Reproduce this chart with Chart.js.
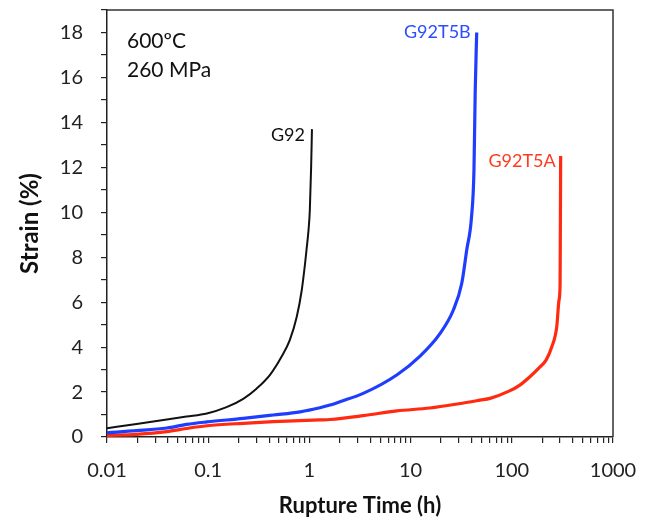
<!DOCTYPE html>
<html>
<head>
<meta charset="utf-8">
<script src="https://cdn.jsdelivr.net/npm/chart.js@4"></script>
<style>
  html, body { margin: 0; padding: 0; background: #fff; }
  #wrap { width: 652px; height: 519px; }
</style>
</head>
<body>
<div id="wrap"><canvas id="creepChart" width="652" height="519"></canvas></div>
<script>
// creep curves, 600 C / 260 MPa : time (h) vs strain (%)
const g92Time   = [0.01, 0.0196, 0.039, 0.061, 0.097, 0.152, 0.222, 0.30, 0.41, 0.53, 0.64, 0.75, 0.84, 0.906, 0.94, 0.98, 1.01, 1.04, 1.06];
const g92Strain = [0.39, 0.58, 0.78, 0.91, 1.05, 1.33, 1.7, 2.15, 2.78, 3.57, 4.31, 5.35, 6.53, 7.72, 8.4, 9.2, 10.1, 12.0, 13.7];

const g92t5bTime   = [0.01, 0.0196, 0.039, 0.061, 0.097, 0.222, 0.44, 0.81, 1.27, 1.6, 2, 3.4, 7.3, 12.4, 19.5, 26.4, 32, 35.8, 40, 42.3, 43.5, 45];
const g92t5bStrain = [0.19, 0.28, 0.4, 0.56, 0.67, 0.83, 0.98, 1.12, 1.3, 1.42, 1.57, 1.94, 2.76, 3.6, 4.6, 5.64, 6.83, 8.3, 9.8, 11.9, 15.4, 18];

const g92t5aTime   = [0.01, 0.0196, 0.039, 0.061, 0.097, 0.222, 0.44, 1.27, 1.6, 3.4, 7.3, 15.5, 30, 48.5, 61, 95, 120, 151, 190, 218, 248, 278, 293, 300, 302, 304];
const g92t5aStrain = [0.07, 0.12, 0.24, 0.38, 0.5, 0.61, 0.68, 0.76, 0.78, 0.95, 1.16, 1.29, 1.48, 1.64, 1.72, 2.05, 2.31, 2.68, 3.12, 3.42, 4.0, 4.9, 6.1, 6.8, 9.5, 12.5];

const seriesNames = ['G92', 'G92T5B', 'G92T5A'];
const xMajorTicks = [0.01, 0.1, 1, 10, 100, 1000];
const yTickLabels = [0, 2, 4, 6, 8, 10, 12, 14, 16, 18];

const toPoints = (xs, ys) => xs.map((x, i) => ({ x, y: ys[i] }));

const FONT = 'Lato, "Open Sans", sans-serif';

// frame + text labels on the plot
const annotations = {
    id: 'annotations',
    afterDraw(chart) {
        const { ctx, chartArea, scales } = chart;
        ctx.save();
        ctx.strokeStyle = '#333';
        ctx.lineWidth = 1.5;
        ctx.beginPath();
        ctx.moveTo(chartArea.left, chartArea.top);
        ctx.lineTo(chartArea.right, chartArea.top);
        ctx.lineTo(chartArea.right, chartArea.bottom);
        ctx.stroke();

        ctx.fillStyle = '#111';
        ctx.font = '21px ' + FONT;
        ctx.textAlign = 'left';
        ctx.textBaseline = 'middle';
        ctx.fillText('600\u00BAC', chartArea.left + 20, 41);
        ctx.fillText('260 MPa', chartArea.left + 20, 70);

        const tags = [
            { ds: 0, color: '#111', dx: -7, dy: 6 },
            { ds: 1, color: '#2a4dff', dx: -6, dy: 0 },
            { ds: 2, color: '#ff3a1e', dx: -5, dy: 5 }
        ];
        ctx.font = '18px ' + FONT;
        ctx.textAlign = 'right';
        tags.forEach(t => {
            const data = chart.data.datasets[t.ds].data;
            const last = data[data.length - 1];
            const px = scales.x.getPixelForValue(last.x);
            const py = scales.y.getPixelForValue(last.y);
            ctx.fillStyle = t.color;
            ctx.fillText(seriesNames[t.ds], px + t.dx, py + t.dy);
        });
        ctx.restore();
    }
};

const ctx = document.getElementById('creepChart').getContext('2d');
new Chart(ctx, {
    type: 'line',
    data: {
        datasets: [
            { label: seriesNames[0], data: toPoints(g92Time, g92Strain), borderColor: '#111', borderWidth: 2 },
            { label: seriesNames[1], data: toPoints(g92t5bTime, g92t5bStrain), borderColor: '#1f3dff', borderWidth: 3.2 },
            { label: seriesNames[2], data: toPoints(g92t5aTime, g92t5aStrain), borderColor: '#ff2a10', borderWidth: 3.2 }
        ]
    },
    options: {
        responsive: false,
        animation: false,
        layout: { padding: { top: 10, right: 39, left: 0, bottom: 0 } },
        elements: {
            point: { radius: 0 },
            line: { cubicInterpolationMode: 'monotone', fill: false }
        },
        plugins: {
            legend: { display: false },
            tooltip: { enabled: false }
        },
        scales: {
            x: {
                type: 'logarithmic',
                min: 0.01,
                max: 1000,
                afterBuildTicks: (scale) => {
                    const ticks = [];
                    xMajorTicks.forEach((v, i) => {
                        ticks.push({ value: v });
                        if (i < xMajorTicks.length - 1) {
                            for (let k = 2; k <= 9; k++) ticks.push({ value: v * k });
                        }
                    });
                    scale.ticks = ticks;
                },
                afterFit: (scale) => {
                    scale.height = 82;
                    scale.paddingLeft = 0;
                    scale.paddingRight = 0;
                },
                ticks: {
                    autoSkip: false,
                    maxRotation: 0,
                    padding: 16,
                    color: '#222',
                    font: { family: FONT, size: 20 },
                    callback: (v) => xMajorTicks.includes(v) ? String(v) : ''
                },
                grid: { drawOnChartArea: false, drawTicks: true, tickLength: 6, color: '#222', lineWidth: 1.2 },
                border: { display: true, color: '#222', width: 1.5 },
                title: {
                    display: true,
                    text: 'Rupture Time (h)',
                    color: '#111',
                    font: { family: FONT, size: 22, weight: 'bold' },
                    padding: { top: 0, bottom: 0 }
                }
            },
            y: {
                min: 0,
                max: 19,
                afterFit: (scale) => {
                    scale.width = 107;
                    scale.paddingTop = 0;
                    scale.paddingBottom = 0;
                },
                ticks: {
                    stepSize: 1,
                    autoSkip: false,
                    padding: 18,
                    color: '#222',
                    font: { family: FONT, size: 20 },
                    callback: (v) => yTickLabels.includes(v) ? String(v) : ''
                },
                grid: { drawOnChartArea: false, drawTicks: true, tickLength: 6, color: '#222', lineWidth: 1.2 },
                border: { display: true, color: '#222', width: 1.5 },
                title: {
                    display: true,
                    text: 'Strain (%)',
                    color: '#111',
                    font: { family: FONT, size: 24, weight: 'bold' },
                    padding: { top: 16, bottom: 0 }
                }
            }
        }
    },
    plugins: [annotations]
});
</script>
</body>
</html>
